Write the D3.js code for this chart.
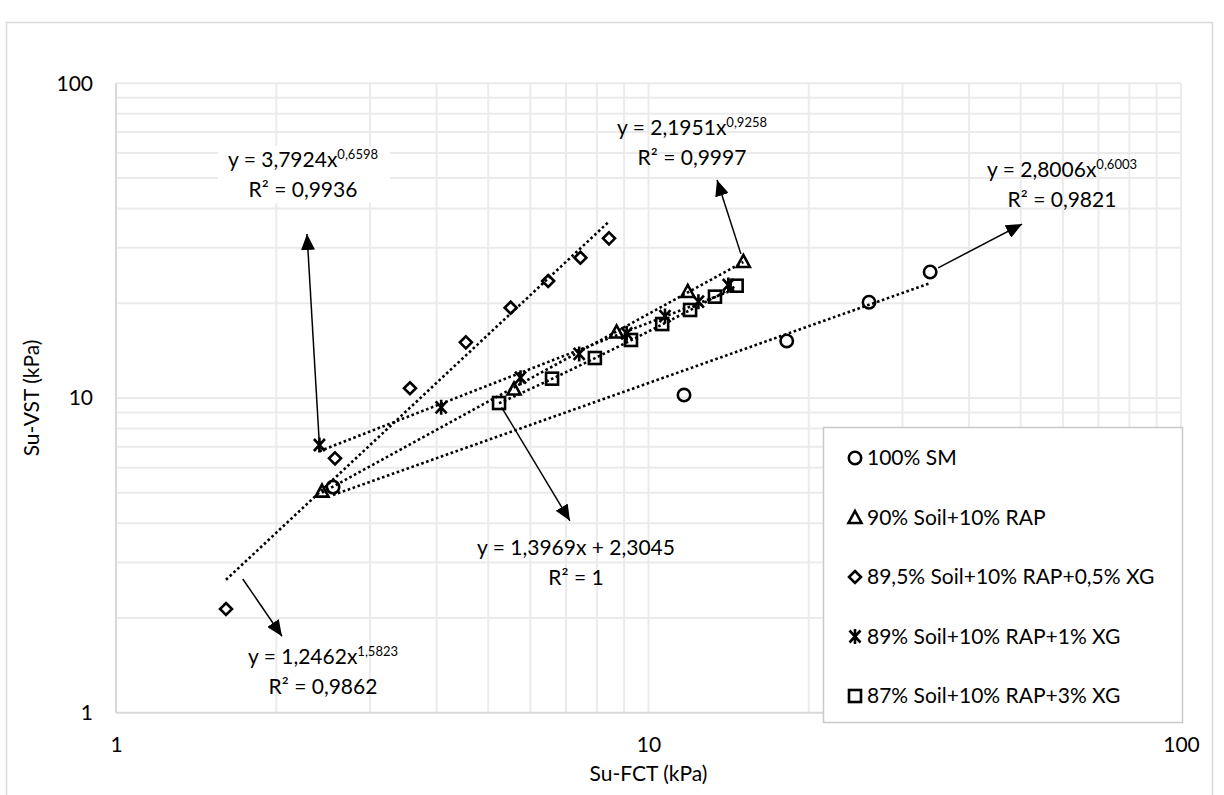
<!DOCTYPE html>
<html>
<head>
<meta charset="utf-8">
<script src="https://cdn.jsdelivr.net/npm/d3@7/dist/d3.min.js"></script>
<style>
  body { margin: 0; background: #fff; }
  text { font-family: Lato, "Open Sans", sans-serif; fill: #000; }
</style>
</head>
<body>
<svg id="chart" width="1224" height="795"></svg>
<script>
// series (Su-FCT on x, Su-VST on y, both kPa)
const seriesNames = ['100% SM', '90% Soil+10% RAP', '89,5% Soil+10% RAP+0,5% XG', '89% Soil+10% RAP+1% XG', '87% Soil+10% RAP+3% XG'];
const seriesShapes = ['circle', 'triangle', 'diamond', 'star', 'square'];

const smX = [2.556, 11.66, 18.18, 25.95, 33.8];
const smY = [5.21, 10.22, 15.18, 20.15, 25.14];

const rapX = [2.437, 5.59, 8.71, 11.85, 15.07];
const rapY = [5.06, 10.68, 16.21, 21.8, 27.15];

const xg05X = [1.609, 2.578, 3.565, 4.54, 5.51, 6.48, 7.45, 8.43];
const xg05Y = [2.136, 6.43, 10.74, 15.03, 19.36, 23.54, 27.91, 32.17];

const xg1X = [2.41, 4.08, 5.75, 7.41, 9.10, 10.74, 12.41, 14.12];
const xg1Y = [7.09, 9.34, 11.6, 13.8, 16.05, 18.22, 20.23, 22.86];

const xg3X = [5.24, 6.59, 7.93, 9.27, 10.61, 11.97, 13.33, 14.64];
const xg3Y = [9.64, 11.52, 13.4, 15.29, 17.18, 19.04, 20.99, 22.74];

const seriesX = [smX, rapX, xg05X, xg1X, xg3X];
const seriesY = [smY, rapY, xg05Y, xg1Y, xg3Y];

// trendlines as shown on the chart
const trendType = ['power', 'power', 'power', 'power', 'linear'];
const trendA = [2.8006, 2.1951, 1.2462, 3.7924, 1.3969];
const trendB = [0.6003, 0.9258, 1.5823, 0.6598, 2.3045];

// equation labels: [main, superscript, r2]
const eqMain = ['y = 2,8006x', 'y = 2,1951x', 'y = 1,2462x', 'y = 3,7924x', 'y = 1,3969x + 2,3045'];
const eqSup = ['0,6003', '0,9258', '1,5823', '0,6598', ''];
const eqR2 = ['R² = 0,9821', 'R² = 0,9997', 'R² = 0,9862', 'R² = 0,9936', 'R² = 1'];

// arrow start / tip in data units
const arrowFrom = [[33.8, 25.14], [15.07, 27.15], [1.73, 2.66], [2.41, 7.09], [5.24, 9.64]];
const arrowTo = [[50.3, 35.7], [13.45, 49.3], [2.05, 1.75], [2.284, 33.2], [7.12, 4.07]];

const xTicks = [1, 10, 100];
const yTicks = [1, 10, 100];

const svg = d3.select('#chart');
const margin = { left: 116, right: 1181, top: 83.3, bottom: 712.7 };

const x = d3.scaleLog().domain([1, 100]).range([margin.left, margin.right]);
const y = d3.scaleLog().domain([1, 100]).range([margin.bottom, margin.top]);

// outer chart border
svg.append('rect')
  .attr('x', 6.5).attr('y', 22.5)
  .attr('width', 1206).attr('height', 800)
  .attr('fill', 'none').attr('stroke', '#d9d9d9').attr('stroke-width', 1.5);

// gridlines, every 1..9 per decade
const gridVals = [];
[1, 10].forEach(d => { for (let k = 1; k <= 9; k++) gridVals.push(k * d); });
gridVals.push(100);

const grid = svg.append('g');
grid.selectAll('.gx').data(gridVals.slice(1)).enter().append('line')
  .attr('x1', d => x(d)).attr('x2', d => x(d))
  .attr('y1', margin.top).attr('y2', margin.bottom)
  .attr('stroke', '#ebebeb').attr('stroke-width', 2);
grid.selectAll('.gy').data(gridVals.slice(1)).enter().append('line')
  .attr('y1', d => y(d)).attr('y2', d => y(d))
  .attr('x1', margin.left).attr('x2', margin.right)
  .attr('stroke', '#ebebeb').attr('stroke-width', 2);

// axes
svg.append('line')
  .attr('x1', margin.left).attr('x2', margin.left)
  .attr('y1', margin.top).attr('y2', margin.bottom)
  .attr('stroke', '#d9d9d9').attr('stroke-width', 2);
svg.append('line')
  .attr('x1', margin.left).attr('x2', margin.right)
  .attr('y1', margin.bottom).attr('y2', margin.bottom)
  .attr('stroke', '#d9d9d9').attr('stroke-width', 2);

const xAxis = svg.append('g')
  .attr('transform', `translate(0,${margin.bottom})`)
  .call(d3.axisBottom(x).tickValues(xTicks).tickFormat(d3.format('d')).tickSize(0).tickPadding(24));
const yAxis = svg.append('g')
  .attr('transform', `translate(${margin.left},0)`)
  .call(d3.axisLeft(y).tickValues(yTicks).tickFormat(d3.format('d')).tickSize(0).tickPadding(23));
[xAxis, yAxis].forEach(a => {
  a.select('.domain').remove();
  a.selectAll('text').attr('font-size', 21).attr('font-family', 'Lato').attr('fill', '#000');
});

svg.append('text')
  .attr('x', (margin.left + margin.right) / 2).attr('y', 781)
  .attr('text-anchor', 'middle').attr('font-size', 21)
  .text('Su-FCT (kPa)');
svg.append('text')
  .attr('transform', `translate(39,${(margin.top + margin.bottom) / 2}) rotate(-90)`)
  .attr('text-anchor', 'middle').attr('font-size', 21)
  .text('Su-VST (kPa)');

// trendlines over each series' x range
const plot = svg.append('g');
trendType.forEach((t, i) => {
  const f = t === 'power'
    ? v => trendA[i] * Math.pow(v, trendB[i])
    : v => trendA[i] * v + trendB[i];
  const [mn, mx] = d3.extent(seriesX[i]);
  const lo = Math.log10(mn), hi = Math.log10(mx);
  const pts = d3.range(0, 41).map(k => {
    const v = Math.pow(10, lo + (hi - lo) * k / 40);
    return [v, f(v)];
  });
  plot.append('path')
    .attr('d', d3.line().x(d => x(d[0])).y(d => y(d[1]))(pts))
    .attr('fill', 'none').attr('stroke', '#000')
    .attr('stroke-width', 2.6).attr('stroke-dasharray', '2.6 2.6');
});

// markers
function drawMarker(g, shape, cx, cy) {
  const s = g.append('g').attr('transform', `translate(${cx},${cy})`);
  const st = el => el.attr('fill', 'none').attr('stroke', '#000').attr('stroke-width', 2.6);
  if (shape === 'circle') st(s.append('circle').attr('r', 6.2));
  if (shape === 'triangle') st(s.append('path').attr('d', 'M0,-6.5L6.5,5.5L-6.5,5.5Z').attr('stroke-linejoin', 'miter'));
  if (shape === 'diamond') st(s.append('path').attr('d', 'M0,-6L6,0L0,6L-6,0Z'));
  if (shape === 'square') st(s.append('rect').attr('x', -6).attr('y', -6).attr('width', 12).attr('height', 12));
  if (shape === 'star') st(s.append('path').attr('d', 'M-5.5,-6L5.5,6M5.5,-6L-5.5,6M0,-7.5L0,7.5'));
}

seriesX.forEach((xs, i) => {
  xs.forEach((v, j) => drawMarker(plot, seriesShapes[i], x(v), y(seriesY[i][j])));
});

// arrows
svg.append('defs').append('marker')
  .attr('id', 'head').attr('markerUnits', 'userSpaceOnUse')
  .attr('markerWidth', 17).attr('markerHeight', 14)
  .attr('refX', 16).attr('refY', 7).attr('orient', 'auto')
  .append('path').attr('d', 'M0,0L16,7L0,14Z').attr('fill', '#000');

const arrowTrim = [9, 8, 0, 7, 5];
arrowFrom.forEach((a, i) => {
  const x0 = x(a[0]), y0 = y(a[1]);
  const x1 = x(arrowTo[i][0]), y1 = y(arrowTo[i][1]);
  const len = Math.hypot(x1 - x0, y1 - y0);
  const sx = x0 + (x1 - x0) * arrowTrim[i] / len;
  const sy = y0 + (y1 - y0) * arrowTrim[i] / len;
  svg.append('line')
    .attr('x1', sx).attr('y1', sy).attr('x2', x1).attr('y2', y1)
    .attr('stroke', '#000').attr('stroke-width', 1.5)
    .attr('marker-end', 'url(#head)');
});

// equation labels
const labelPos = [[1062, 177], [692, 135], [323, 664], [303, 167], [576, 555]];
const labelFill = [false, false, false, true, false];
eqMain.forEach((m, i) => {
  const [lx, ly] = labelPos[i];
  if (labelFill[i]) {
    svg.append('rect').attr('x', lx - 85).attr('y', ly - 21)
      .attr('width', 172).attr('height', 57).attr('fill', '#fff');
  }
  const t = svg.append('text').attr('x', lx).attr('y', ly)
    .attr('text-anchor', 'middle').attr('font-size', 21);
  t.append('tspan').text(m);
  if (eqSup[i]) {
    t.append('tspan').attr('dy', -8).attr('font-size', 13).text(eqSup[i]);
  }
  svg.append('text').attr('x', lx).attr('y', ly + 30)
    .attr('text-anchor', 'middle').attr('font-size', 21)
    .text(eqR2[i]);
});

// legend
const legend = svg.append('g');
legend.append('rect')
  .attr('x', 823.5).attr('y', 427.5).attr('width', 359).attr('height', 295)
  .attr('fill', '#fff').attr('stroke', '#c9c9c9').attr('stroke-width', 1.5);
seriesNames.forEach((n, i) => {
  const by = 465 + i * 59.5;
  drawMarker(legend, seriesShapes[i], 855, by - 7);
  legend.append('text').attr('x', 867).attr('y', by)
    .attr('font-size', 21).text(n);
});
</script>
</body>
</html>
